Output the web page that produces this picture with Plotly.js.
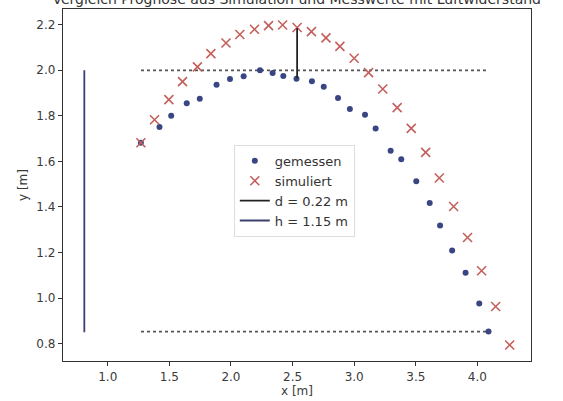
<!DOCTYPE html>
<html>
<head>
<meta charset="utf-8">
<script src="https://cdn.plot.ly/plotly-3.0.1.min.js"></script>
<style>html,body{margin:0;padding:0;background:#fff;}#chart{width:563px;height:401px;}</style>
</head>
<body>
<div id="chart"></div>
<script>
// measured points (gemessen)
const measX = [1.269,1.420,1.515,1.641,1.747,1.883,1.992,2.103,2.236,2.338,2.425,2.532,2.657,2.753,2.869,2.965,3.088,3.174,3.296,3.382,3.504,3.613,3.697,3.795,3.904,4.015,4.090];
const measY = [1.682,1.751,1.800,1.855,1.875,1.937,1.962,1.974,2.000,1.988,1.975,1.963,1.952,1.928,1.878,1.830,1.805,1.745,1.647,1.610,1.513,1.417,1.319,1.209,1.111,0.976,0.853];
// simulated points (simuliert)
const simX = [1.269,1.380,1.496,1.607,1.728,1.837,1.960,2.072,2.191,2.305,2.419,2.537,2.653,2.771,2.884,3.000,3.117,3.232,3.349,3.463,3.580,3.691,3.807,3.920,4.034,4.148,4.262];
const simY = [1.682,1.783,1.871,1.950,2.015,2.073,2.120,2.157,2.180,2.196,2.199,2.188,2.170,2.142,2.105,2.053,1.990,1.918,1.836,1.745,1.640,1.527,1.402,1.266,1.120,0.963,0.794];
// reference lines
const topLineX = [1.27, 4.08], topLineY = [2.0, 2.0];
const botLineX = [1.27, 4.08], botLineY = [0.853, 0.853];
const dLineX = [2.537, 2.537], dLineY = [1.965, 2.185];
const hLineX = [0.81, 0.81], hLineY = [0.85, 2.0];
const labels = {meas: 'gemessen', sim: 'simuliert', d: 'd = 0.22 m', h: 'h = 1.15 m'};
const titleText = 'Vergleich Prognose aus Simulation und Messwerte mit Luftwiderstand';

const font = {family: 'DejaVu Sans, sans-serif', size: 12, color: '#3a3a3a'};

const traces = [
  {x: topLineX, y: topLineY, mode: 'lines', line: {color: '#555', width: 1.8, dash: 'dot'}, showlegend: false, hoverinfo: 'skip'},
  {x: botLineX, y: botLineY, mode: 'lines', line: {color: '#555', width: 1.8, dash: 'dot'}, showlegend: false, hoverinfo: 'skip'},
  {x: measX, y: measY, mode: 'markers', name: labels.meas, marker: {symbol: 'circle', size: 6, color: '#3a4683'}},
  {x: simX, y: simY, mode: 'markers', name: labels.sim, marker: {symbol: 'x-thin', size: 9, line: {width: 1.6, color: '#c4605c'}, color: '#c4605c'}},
  {x: dLineX, y: dLineY, mode: 'lines', name: labels.d, line: {color: '#222', width: 1.8}},
  {x: hLineX, y: hLineY, mode: 'lines', name: labels.h, line: {color: '#3b4070', width: 1.8}}
];

const layout = {
  width: 563, height: 401,
  margin: {l: 63, r: 32, t: 9, b: 40},
  paper_bgcolor: '#fff', plot_bgcolor: '#fff',
  font: font,
  title: {text: titleText, font: {family: 'DejaVu Sans, sans-serif', size: 14, color: '#333'}, x: 0.527, xanchor: 'center', y: 0.99, yanchor: 'bottom', yref: 'container'},
  xaxis: {
    range: [0.637, 4.435], tickvals: [1.0,1.5,2.0,2.5,3.0,3.5,4.0], tickformat: '.1f',
    showgrid: false, zeroline: false, showline: true, linecolor: '#333', linewidth: 1.2, mirror: true,
    ticks: 'outside', ticklen: 4, tickcolor: '#333',
    title: {text: 'x [m]', font: font, standoff: 4}
  },
  yaxis: {
    range: [0.724, 2.269], tickvals: [0.8,1.0,1.2,1.4,1.6,1.8,2.0,2.2], tickformat: '.1f',
    showgrid: false, zeroline: false, showline: true, linecolor: '#333', linewidth: 1.2, mirror: true,
    ticks: 'outside', ticklen: 4, tickcolor: '#333',
    title: {text: 'y [m]', font: font, standoff: 6}
  },
  legend: {x: 0.365, y: 0.614, xanchor: 'left', yanchor: 'top', bgcolor: '#fff', bordercolor: '#ddd', borderwidth: 1, font: {family: 'DejaVu Sans, sans-serif', size: 13, color: '#333'}, tracegroupgap: 0}
};

Plotly.newPlot('chart', traces, layout, {displayModeBar: false, staticPlot: true});
</script>
</body>
</html>
